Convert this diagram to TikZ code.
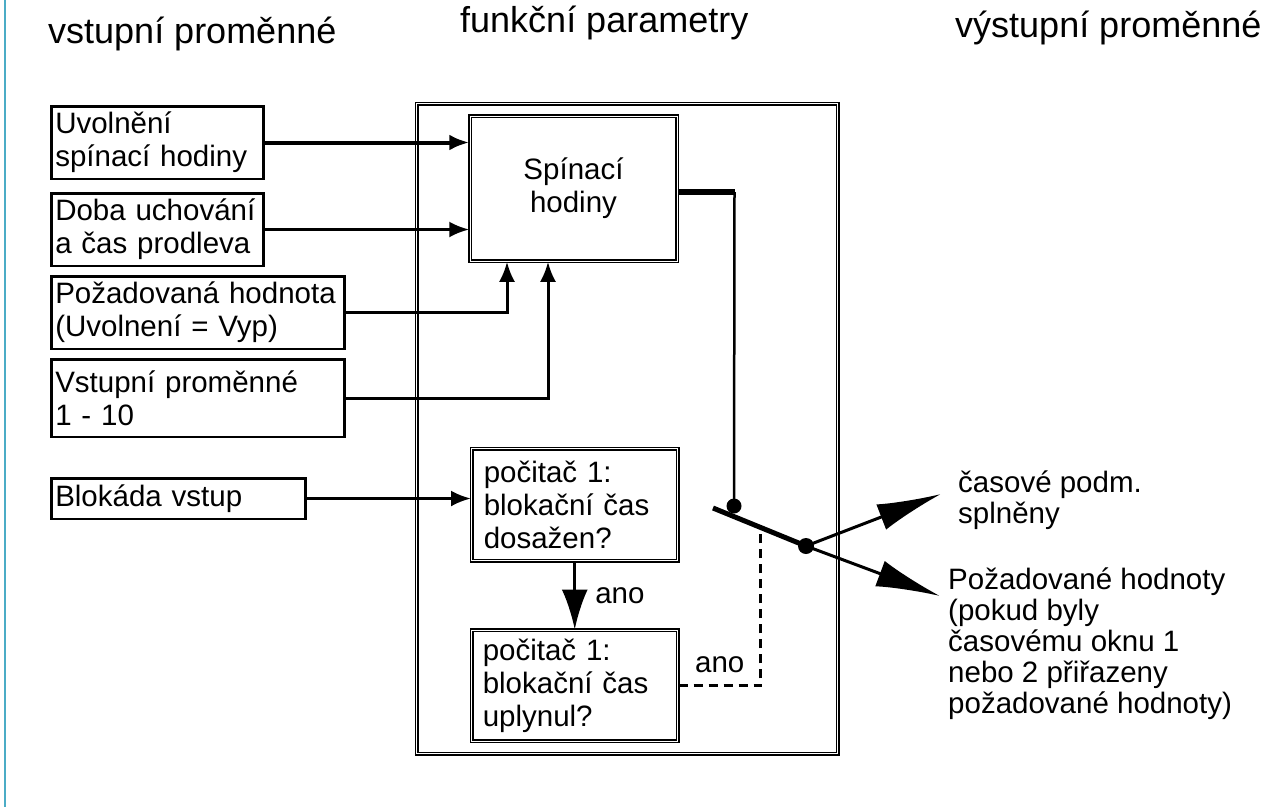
\documentclass[tikz,border=0pt]{standalone}
\usepackage{fontspec}
\setmainfont{Liberation Sans}
\usetikzlibrary{positioning, arrows.meta, calc}
\definecolor{barblue}{HTML}{4BACC6}

\begin{document}
\begin{tikzpicture}[x=1pt, y=-1pt,
    inbox/.style={rectangle, draw, line width=2.5pt, inner xsep=4pt, inner ysep=0pt,
                  align=left, font=\fontsize{29.5}{33}\selectfont, anchor=north west},
    fnbox/.style={rectangle, draw, line width=1.5pt, double, double distance=0.8pt,
                  font=\fontsize{29.5}{33}\selectfont},
    frm/.style={rectangle, draw, line width=1.5pt, double, double distance=0.8pt},
    arr/.style={-{Latex[length=20pt, width=16pt]}, line width=3pt},
    bigarr/.style={-{Latex[length=40pt, width=26pt]}, line width=3pt},
    outarr/.style={-{Latex[length=64pt, width=27pt]}, line width=3pt},
    wire/.style={line width=2.5pt},
    dsh/.style={line width=3pt, dash pattern=on 9pt off 6pt},
    lbl/.style={font=\fontsize{29.5}{33}\selectfont, inner sep=2pt},
    txt/.style={font=\fontsize{29.5}{31}\selectfont, align=left, inner sep=0pt, anchor=north west},
    ttl/.style={font=\fontsize{36}{40}\selectfont, inner sep=0pt, anchor=base west}
]
\useasboundingbox (0,0) rectangle (1261,807);
\draw[barblue, line width=2pt] (5,0) -- (5,807);

% column titles
\node[ttl] (tin)  at (48,43)  {vstupní proměnné};
\node[ttl] (tfn)  at (460,32) {funkční parametry};
\node[ttl] (tout) at (955,37) {výstupní proměnné};

% input variables
\node[inbox, text width=204pt, minimum height=72.5pt] (in1) at (50,105)
    {Uvolnění\\spínací hodiny};
\node[inbox, text width=204pt, minimum height=72.5pt, below=12pt of in1.south west, anchor=north west] (in2)
    {Doba uchování\\a čas prodleva};
\node[inbox, text width=285pt, minimum height=72.5pt, below=8pt of in2.south west, anchor=north west] (in3)
    {Požadovaná hodnota\\(Uvolnení = Vyp)};
\node[inbox, text width=285pt, minimum height=77.5pt, below=8pt of in3.south west, anchor=north west] (in4)
    {Vstupní proměnné\\1 - 10};
\node[inbox, text width=246pt, minimum height=40.5pt, below=39pt of in4.south west, anchor=north west] (in5)
    {Blokáda vstup};

% function parameters
\node[frm, minimum width=421pt, minimum height=650pt, anchor=north west] (frame) at (416,103) {};
\node[fnbox, minimum width=207pt, minimum height=145pt, align=center] (clock) at (573.5,188.5)
    {Spínací\\hodiny};
\node[fnbox, text width=182pt, inner xsep=12pt, inner ysep=0pt, minimum height=112pt,
      align=left, anchor=north west] (cnt1) at (471,448)
    {počitač 1:\\blokační čas\\dosažen?};
\node[fnbox, text width=184pt, inner xsep=11pt, inner ysep=0pt, minimum height=111pt,
      align=left, below=68pt of cnt1] (cnt2)
    {počitač 1:\\blokační čas\\uplynul?};

% switch
\coordinate (turn) at (734.5,192);
\coordinate (bar1) at (713,508);
\coordinate (dot2) at (806,546);
\coordinate (dot1) at (734,506);
\coordinate (dsh)  at ($(bar1)!0.516!(dot2)$);
\coordinate (tip1) at (941,494);
\coordinate (tip2) at (940,596);

\draw[arr, line width=4pt] (in1) -- (in1 -| clock.west);
\draw[arr] (in2) -- (in2 -| clock.west);
\draw[arr] (in3) -| ([xshift=-66.5pt]clock.south);
\draw[arr] (in4) -| ([xshift=-25.5pt]clock.south);
\draw[arr] (in5) -- (in5 -| cnt1.west);
\draw[bigarr] (cnt1) -- node[lbl, right=17pt] {ano} (cnt2);

\draw[line width=5.5pt] ([yshift=-3.5pt]clock.east) -- (turn);
\draw[wire] (turn) -- (dot1);
\draw[line width=5pt] (bar1) -- (dot2);
\fill (dot1) circle (7.5pt);
\fill (dot2) circle (8pt);
\draw[dsh] (cnt2) -- node[lbl, above=9pt] {ano} (cnt2 -| dsh) -- (dsh);

\draw[outarr] (dot2) -- (tip1);
\draw[outarr] (dot2) -- (tip2);

% output variables
\node[txt] (out1) at (958,471) {časové podm.\\splněny};
\node[txt] (out2) at (948,568)
    {Požadované hodnoty\\(pokud byly\\časovému oknu 1\\nebo 2 přiřazeny\\požadované hodnoty)};

\end{tikzpicture}
\end{document}
